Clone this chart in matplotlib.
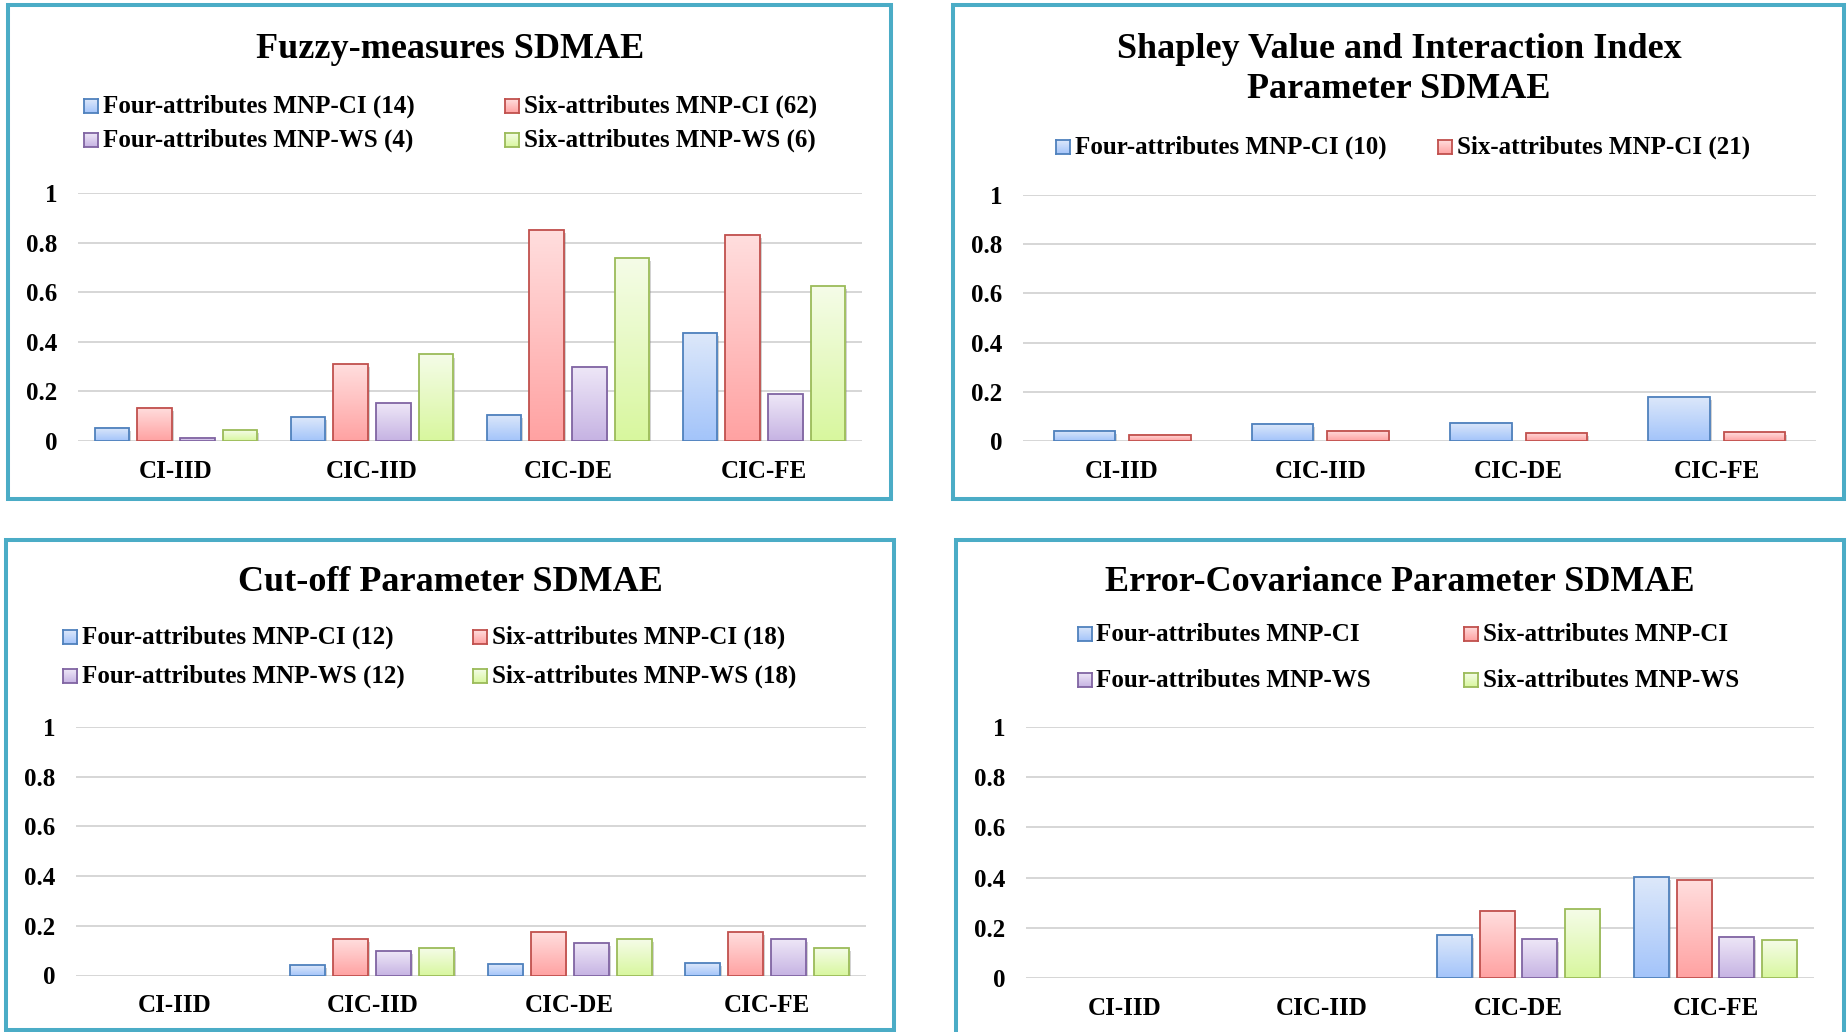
import numpy as np
import matplotlib
matplotlib.use('Agg')
import matplotlib.pyplot as plt
from matplotlib.colors import LinearSegmentedColormap
from matplotlib.patches import Rectangle
import matplotlib.patheffects as pe

W, H = 1848, 1032
DPI = 100
plt.rcParams['font.family'] = ['Liberation Serif', 'DejaVu Serif']
plt.rcParams['font.weight'] = 'bold'

nan = np.nan

# ---------------- data ----------------
categories = ['CI-IID', 'CIC-IID', 'CIC-DE', 'CIC-FE']
yticks = [0, 0.2, 0.4, 0.6, 0.8, 1]
ytick_labels = ['0', '0.2', '0.4', '0.6', '0.8', '1']

fuzzy_four_ci = [0.054, 0.095, 0.106, 0.436]
fuzzy_six_ci = [0.134, 0.310, 0.852, 0.831]
fuzzy_four_ws = [0.013, 0.152, 0.299, 0.188]
fuzzy_six_ws = [0.044, 0.349, 0.738, 0.625]
fuzzy_labels = ['Four-attributes MNP-CI (14)', 'Six-attributes MNP-CI (62)',
                'Four-attributes MNP-WS (4)', 'Six-attributes MNP-WS (6)']

shapley_four_ci = [0.041, 0.070, 0.075, 0.180]
shapley_six_ci = [0.026, 0.042, 0.033, 0.035]
shapley_labels = ['Four-attributes MNP-CI (10)', 'Six-attributes MNP-CI (21)']

cutoff_four_ci = [nan, 0.044, 0.048, 0.051]
cutoff_six_ci = [nan, 0.147, 0.176, 0.176]
cutoff_four_ws = [nan, 0.100, 0.132, 0.147]
cutoff_six_ws = [nan, 0.109, 0.148, 0.110]
cutoff_labels = ['Four-attributes MNP-CI (12)', 'Six-attributes MNP-CI (18)',
                 'Four-attributes MNP-WS (12)', 'Six-attributes MNP-WS (18)']

errcov_four_ci = [nan, nan, 0.173, 0.401]
errcov_six_ci = [nan, nan, 0.267, 0.391]
errcov_four_ws = [nan, nan, 0.155, 0.165]
errcov_six_ws = [nan, nan, 0.273, 0.151]
errcov_labels = ['Four-attributes MNP-CI', 'Six-attributes MNP-CI',
                 'Four-attributes MNP-WS', 'Six-attributes MNP-WS']

# ---------------- styles ----------------
STYLE = {
    'four_ci': dict(edge='#4F81BD', top='#DDE8FA', bottom='#A3C4FA'),
    'six_ci': dict(edge='#C0504D', top='#FFDEDE', bottom='#FFA2A2'),
    'four_ws': dict(edge='#8064A2', top='#EEE7F7', bottom='#C6B3E3'),
    'six_ws': dict(edge='#9BBB59', top='#F5FCE8', bottom='#D8F79E'),
}
BORDER = '#4BACC6'
GRID = '#D6D6D6'
TITLE_SIZE = 26
LEGEND_SIZE = 18
TICK_SIZE = 18

fig = plt.figure(figsize=(W / DPI, H / DPI), dpi=DPI)
fig.patch.set_facecolor('white')


def fx(x):
    return x / W


def fy(y):
    return 1 - y / H


def add_border(x0, y0, x1, y1):
    r = Rectangle((fx(x0), fy(y1)), fx(x1 - x0), (y1 - y0) / H,
                  transform=fig.transFigure, fill=False, edgecolor=BORDER,
                  linewidth=2.9, zorder=10)
    fig.add_artist(r)


def make_cmap(key):
    s = STYLE[key]
    return LinearSegmentedColormap.from_list(key, [s['bottom'], s['top']])


GRAD = np.linspace(0, 1, 128).reshape(-1, 1)


def draw_panel(box, series, keys, width, step):
    x0, y0, x1, y1 = box
    ax = fig.add_axes([fx(x0), fy(y1), fx(x1 - x0), (y1 - y0) / H])
    ax.set_facecolor('none')
    n = len(series)
    xs = np.arange(len(categories))
    offsets = (np.arange(n) - (n - 1) / 2) * step
    for vals, key, off in zip(series, keys, offsets):
        s = STYLE[key]
        vals = np.asarray(vals, dtype=float)
        # soft shadow
        ax.bar(xs + off, vals, width=width, facecolor='none', edgecolor='none',
               zorder=1.5,
               path_effects=[pe.SimplePatchShadow(offset=(1.2, -2.2),
                                                  shadow_rgbFace='#7F7F7F',
                                                  alpha=0.35)])
        bars = ax.bar(xs + off, vals, width=width, facecolor='none',
                      edgecolor=s['edge'], linewidth=1.3, zorder=3)
        cmap = make_cmap(key)
        for rect, v in zip(bars, vals):
            if np.isnan(v):
                continue
            bx = rect.get_x()
            ax.imshow(GRAD, extent=[bx, bx + width, 0, v], origin='lower',
                      cmap=cmap, aspect='auto', zorder=2,
                      interpolation='bilinear')
    ax.set_xlim(-0.5, len(categories) - 0.5)
    ax.set_ylim(0, 1)
    ax.set_yticks(yticks)
    ax.set_yticklabels(ytick_labels)
    ax.set_xticks(xs)
    ax.set_xticklabels(categories)
    for t in yticks:
        ax.axhline(t, color=GRID, linewidth=1.4, zorder=0.5)
    for sp in ax.spines.values():
        sp.set_visible(False)
    ax.tick_params(axis='both', length=0, labelsize=TICK_SIZE)
    ax.tick_params(axis='y', pad=15)
    ax.tick_params(axis='x', pad=13.5)
    for lab in ax.get_xticklabels() + ax.get_yticklabels():
        lab.set_fontweight('bold')
    return ax


def legend_entry(mx, my_top, label, key, tx, baseline, size=14):
    s = STYLE[key]
    lax = fig.add_axes([fx(mx), fy(my_top + size), size / W, size / H])
    lax.imshow(GRAD, extent=[0, 1, 0, 1], origin='lower', cmap=make_cmap(key),
               aspect='auto')
    lax.set_xticks([])
    lax.set_yticks([])
    for sp in lax.spines.values():
        sp.set_edgecolor(s['edge'])
        sp.set_linewidth(1.3)
    fig.text(fx(tx), fy(baseline), label, fontsize=LEGEND_SIZE,
             fontweight='bold', ha='left', va='baseline')


def title(xc, baseline, text):
    fig.text(fx(xc), fy(baseline), text, fontsize=TITLE_SIZE,
             fontweight='bold', ha='center', va='baseline')


# ---------------- Panel 1: Fuzzy-measures ----------------
add_border(8, 5, 891, 499)
title(450, 58, 'Fuzzy-measures SDMAE')
draw_panel((78, 193, 862, 441),
           [fuzzy_four_ci, fuzzy_six_ci, fuzzy_four_ws, fuzzy_six_ws],
           ['four_ci', 'six_ci', 'four_ws', 'six_ws'], 0.176, 0.217)
legend_entry(84, 99, fuzzy_labels[0], 'four_ci', 103, 113)
legend_entry(505, 99, fuzzy_labels[1], 'six_ci', 524, 113)
legend_entry(84, 133, fuzzy_labels[2], 'four_ws', 103, 147)
legend_entry(505, 133, fuzzy_labels[3], 'six_ws', 524, 147)

# ---------------- Panel 2: Shapley ----------------
add_border(953, 5, 1844, 499)
title(1399, 58, 'Shapley Value and Interaction Index')
title(1399, 98, 'Parameter SDMAE')
draw_panel((1023, 195, 1816, 441),
           [shapley_four_ci, shapley_six_ci],
           ['four_ci', 'six_ci'], 0.31, 0.38)
legend_entry(1056, 140, shapley_labels[0], 'four_ci', 1075, 154)
legend_entry(1438, 140, shapley_labels[1], 'six_ci', 1457, 154)

# ---------------- Panel 3: Cut-off ----------------
add_border(6, 540, 894, 1030)
title(450, 591, 'Cut-off Parameter SDMAE')
draw_panel((76, 727, 866, 975.5),
           [cutoff_four_ci, cutoff_six_ci, cutoff_four_ws, cutoff_six_ws],
           ['four_ci', 'six_ci', 'four_ws', 'six_ws'], 0.178, 0.218)
legend_entry(63, 630, cutoff_labels[0], 'four_ci', 82, 644)
legend_entry(473, 630, cutoff_labels[1], 'six_ci', 492, 644)
legend_entry(63, 669, cutoff_labels[2], 'four_ws', 82, 683)
legend_entry(473, 669, cutoff_labels[3], 'six_ws', 492, 683)

# ---------------- Panel 4: Error-Covariance ----------------
add_border(956, 540, 1844, 1034)
title(1400, 591, 'Error-Covariance Parameter SDMAE')
draw_panel((1026, 727, 1814, 978),
           [errcov_four_ci, errcov_six_ci, errcov_four_ws, errcov_six_ws],
           ['four_ci', 'six_ci', 'four_ws', 'six_ws'], 0.177, 0.216)
legend_entry(1078, 627, errcov_labels[0], 'four_ci', 1096, 641)
legend_entry(1464, 627, errcov_labels[1], 'six_ci', 1483, 641)
legend_entry(1078, 673, errcov_labels[2], 'four_ws', 1096, 687)
legend_entry(1464, 673, errcov_labels[3], 'six_ws', 1483, 687)

fig.savefig('out.png', dpi=DPI, facecolor='white')
